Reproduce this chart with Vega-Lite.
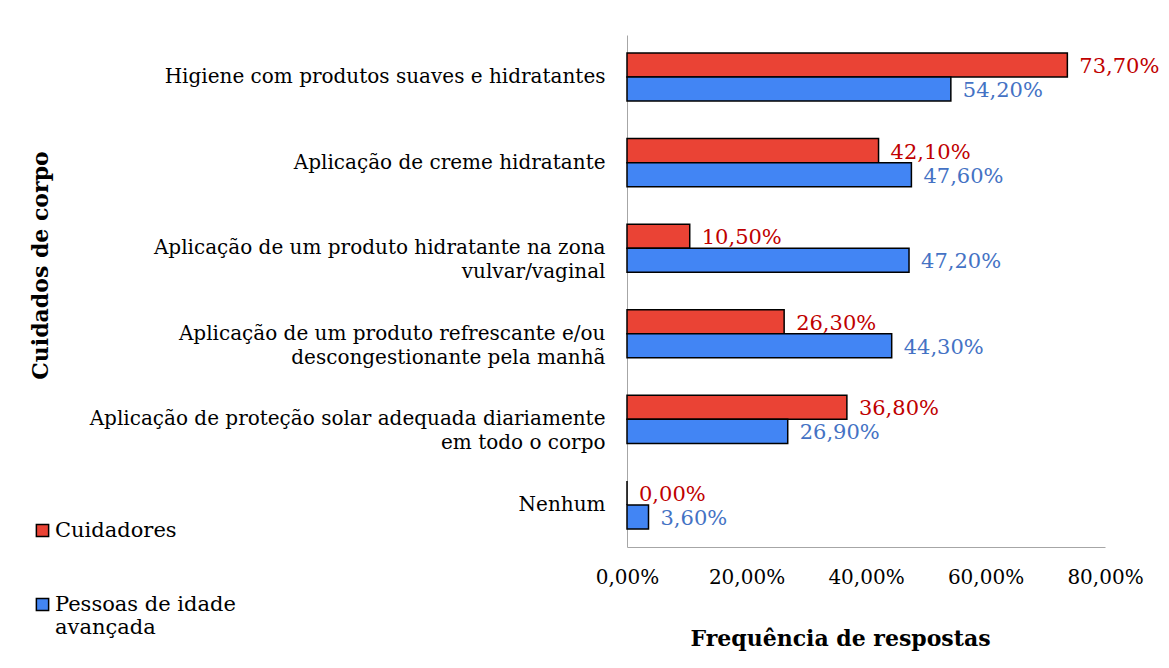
{
  "$schema": "https://vega.github.io/schema/vega-lite/v6.json",
  "width": 478,
  "height": 512,
  "autosize": {"type": "none"},
  "padding": {"left": 627, "top": 35, "right": 64, "bottom": 121},
  "background": "white",
  "config": {
    "locale": {"number": {"decimal": ",", "thousands": ".", "grouping": [3], "currency": ["", " €"]}},
    "font": "DejaVu Serif",
    "view": {"stroke": null}
  },
  "data": {
    "values": [
      {"categoria": "Higiene com produtos suaves e hidratantes", "serie": "Cuidadores", "valor": 0.737},
      {"categoria": "Higiene com produtos suaves e hidratantes", "serie": "Pessoas de idade avançada", "valor": 0.542},
      {"categoria": "Aplicação de creme hidratante", "serie": "Cuidadores", "valor": 0.421},
      {"categoria": "Aplicação de creme hidratante", "serie": "Pessoas de idade avançada", "valor": 0.476},
      {"categoria": "Aplicação de um produto hidratante na zona vulvar/vaginal", "serie": "Cuidadores", "valor": 0.105},
      {"categoria": "Aplicação de um produto hidratante na zona vulvar/vaginal", "serie": "Pessoas de idade avançada", "valor": 0.472},
      {"categoria": "Aplicação de um produto refrescante e/ou descongestionante pela manhã", "serie": "Cuidadores", "valor": 0.263},
      {"categoria": "Aplicação de um produto refrescante e/ou descongestionante pela manhã", "serie": "Pessoas de idade avançada", "valor": 0.443},
      {"categoria": "Aplicação de proteção solar adequada diariamente em todo o corpo", "serie": "Cuidadores", "valor": 0.368},
      {"categoria": "Aplicação de proteção solar adequada diariamente em todo o corpo", "serie": "Pessoas de idade avançada", "valor": 0.269},
      {"categoria": "Nenhum", "serie": "Cuidadores", "valor": 0.0},
      {"categoria": "Nenhum", "serie": "Pessoas de idade avançada", "valor": 0.036}
    ]
  },
  "encoding": {
    "y": {
      "field": "categoria",
      "type": "nominal",
      "sort": null,
      "scale": {"paddingInner": 0.4375, "paddingOuter": 0.21},
      "axis": {
        "title": "Cuidados de corpo",
        "titleFontSize": 22,
        "titleFontWeight": "bold",
        "titleColor": "black",
        "titleAngle": -90,
        "titleX": -587,
        "titleY": 230,
        "titleBaseline": "middle",
        "domainColor": "#a6a6a6",
        "domainWidth": 1,
        "ticks": false,
        "labelPadding": 22,
        "labelFontSize": 20,
        "labelColor": "black",
        "labelLimit": 700,
        "labelLineHeight": 24,
        "labelExpr": "datum.label == 'Aplicação de um produto hidratante na zona vulvar/vaginal' ? ['Aplicação de um produto hidratante na zona', 'vulvar/vaginal'] : datum.label == 'Aplicação de um produto refrescante e/ou descongestionante pela manhã' ? ['Aplicação de um produto refrescante e/ou', 'descongestionante pela manhã'] : datum.label == 'Aplicação de proteção solar adequada diariamente em todo o corpo' ? ['Aplicação de proteção solar adequada diariamente', 'em todo o corpo'] : datum.label"
      }
    },
    "yOffset": {"field": "serie", "type": "nominal", "sort": ["Cuidadores", "Pessoas de idade avançada"]},
    "x": {
      "field": "valor",
      "type": "quantitative",
      "scale": {"domain": [0, 0.8]},
      "axis": {
        "format": ".2%",
        "values": [0, 0.2, 0.4, 0.6, 0.8],
        "title": "Frequência de respostas",
        "titleFontSize": 22,
        "titleFontWeight": "bold",
        "titleColor": "black",
        "titleX": 213,
        "titleY": 91,
        "titleBaseline": "middle",
        "grid": false,
        "ticks": false,
        "domainColor": "#a6a6a6",
        "labelPadding": 20,
        "labelFontSize": 20,
        "labelColor": "black",
        "labelFlush": false
      }
    }
  },
  "layer": [
    {
      "mark": {"type": "bar", "stroke": "black", "strokeWidth": 1.5},
      "encoding": {
        "color": {
          "field": "serie",
          "type": "nominal",
          "scale": {"domain": ["Cuidadores", "Pessoas de idade avançada"], "range": ["#EA4335", "#4285F4"]},
          "legend": {
            "title": null,
            "orient": "none",
            "legendX": -595,
            "legendY": 485,
            "direction": "vertical",
            "symbolType": "square",
            "symbolSize": 150,
            "symbolStrokeColor": "black",
            "symbolStrokeWidth": 1.5,
            "labelFontSize": 21,
            "labelColor": "black",
            "labelLimit": 400,
            "labelOffset": 2,
            "rowPadding": 52,
            "labelExpr": "datum.label == 'Pessoas de idade avançada' ? ['Pessoas de idade', 'avançada'] : datum.label"
          }
        }
      }
    },
    {
      "mark": {"type": "text", "align": "left", "baseline": "middle", "dx": 12, "dy": 2, "fontSize": 21},
      "encoding": {
        "text": {"field": "valor", "type": "quantitative", "format": ".2%"},
        "color": {
          "condition": {"test": "datum.serie == 'Cuidadores'", "value": "#C00000"},
          "value": "#4472C4"
        }
      }
    }
  ]
}
